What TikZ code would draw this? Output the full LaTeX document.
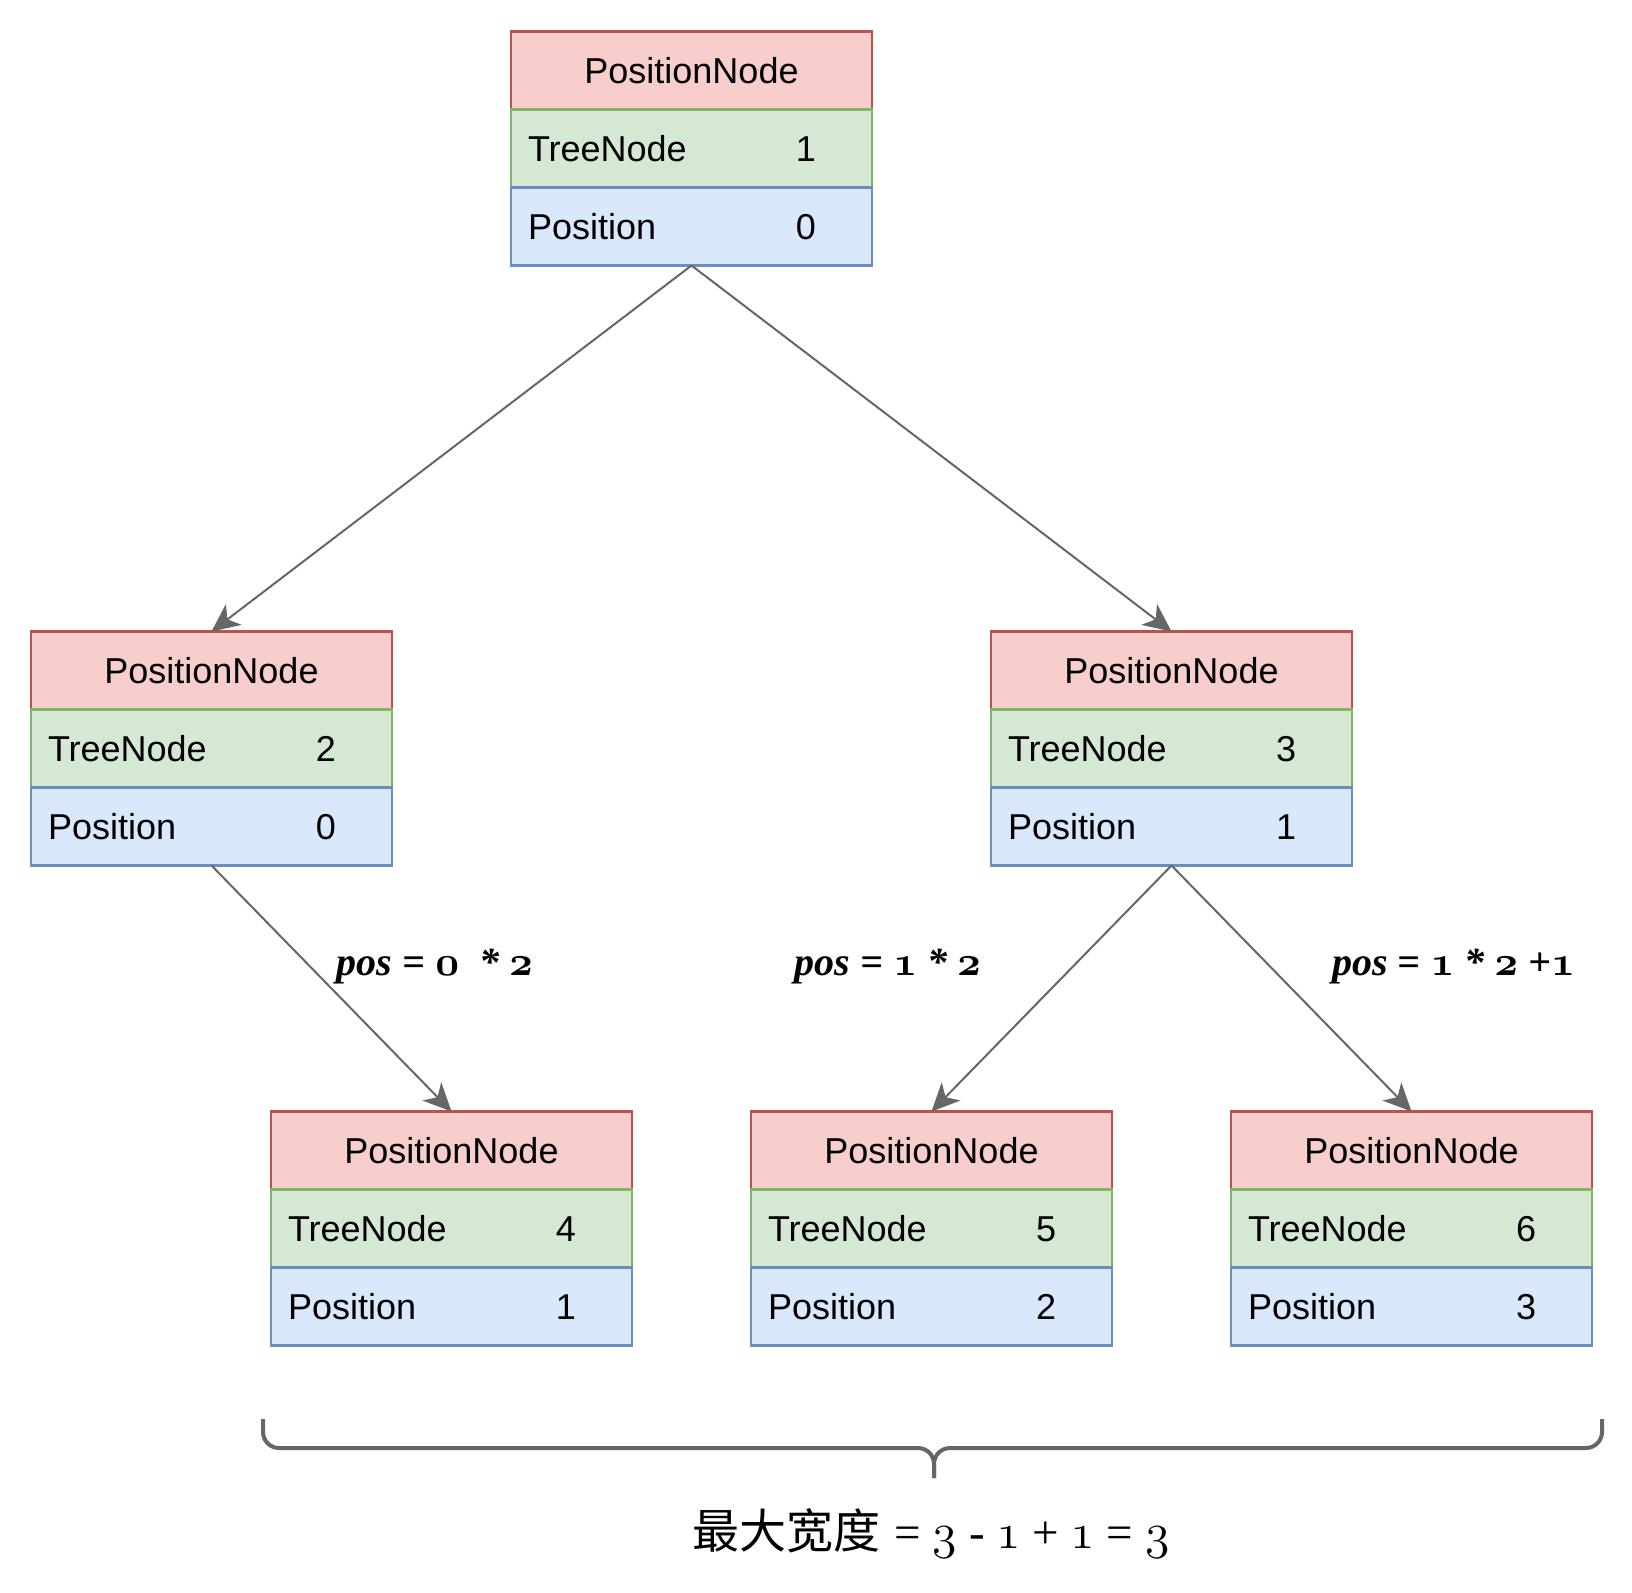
\documentclass[tikz,border=0pt]{standalone}
\usepackage{fontspec}
\newfontfamily\boxfont{Liberation Sans}
\newfontfamily\serifbox{Liberation Serif}
\newfontfamily\cjk{Noto Sans CJK SC}
\usetikzlibrary{positioning,arrows.meta}

\definecolor{redline}{HTML}{B85450}
\definecolor{redfill}{HTML}{F8CECC}
\definecolor{greenline}{HTML}{82B366}
\definecolor{greenfill}{HTML}{D5E8D4}
\definecolor{blueline}{HTML}{6C8EBF}
\definecolor{bluefill}{HTML}{DAE8FC}
\definecolor{linegray}{HTML}{666666}

% old style figures
\newcommand{\osn}[1]{{\usefont{OML}{cmm}{b}{it}#1}}
\newcommand{\osnr}[1]{{\usefont{OML}{cmm}{m}{it}#1}}
\newcommand{\rowtext}[2]{\makebox[163.5pt][l]{#1\hfill\makebox[0pt]{#2}\hspace{24.5pt}}}

\tikzset{
  rowbox/.style={draw, line width=1.2pt, minimum width=180.5pt, minimum height=39pt,
    inner xsep=8.5pt, outer sep=0pt, font=\boxfont\fontsize{18}{21}\selectfont},
  titlerow/.style={rowbox, draw=redline, fill=redfill},
  treerow/.style={rowbox, draw=greenline, fill=greenfill},
  posrow/.style={rowbox, draw=blueline, fill=bluefill},
  conn/.style={draw=linegray, line width=1pt, -{Stealth[length=14pt,width=13pt,inset=4pt]}},
  formula/.style={anchor=base, font=\serifbox\fontsize{20}{24}\selectfont\bfseries\itshape},
  bracepath/.style={draw=linegray, line width=2pt, rounded corners=8pt}
}

\newcommand{\posnode}[4]{%
  \node[titlerow] (#1) at (#2) {PositionNode};
  \node[treerow, below=0pt of #1] (#1-tree) {\rowtext{TreeNode}{#3}};
  \node[posrow, below=0pt of #1-tree] (#1-pos) {\rowtext{Position}{#4}};
}

\begin{document}
\begin{tikzpicture}[x=0.5pt, y=-0.5pt]
  \useasboundingbox (0,0) rectangle (1632,1593);

  % Define nodes
  \posnode{pn1}{691.5,70.5}{1}{0}
  \posnode{pn2}{211.5,670.5}{2}{0}
  \posnode{pn3}{1171.5,670.5}{3}{1}
  \posnode{pn4}{451.5,1150.5}{4}{1}
  \posnode{pn5}{931.5,1150.5}{5}{2}
  \posnode{pn6}{1411.5,1150.5}{6}{3}

  % Connect the nodes
  \draw[conn] (pn1-pos.south) -- (pn2.north);
  \draw[conn] (pn1-pos.south) -- (pn3.north);
  \draw[conn] (pn2-pos.south) -- (pn4.north);
  \draw[conn] (pn3-pos.south) -- (pn5.north);
  \draw[conn] (pn3-pos.south) -- (pn6.north);

  % Edge formulas
  \node[formula] (f4) at (435,975) {pos = \osn{0}\ \ * \osn{2}};
  \node[formula] (f5) at (888,975) {pos = \osn{1} * \osn{2}};
  \node[formula] (f6) at (1453.5,975) {pos = \osn{1} * \osn{2} +\osn{1}};

  % Brace
  \coordinate (brL) at (263,1419);
  \coordinate (brR) at (1602,1419);
  \coordinate (brM) at (934,1448);
  \coordinate (brTip) at (934,1478);
  \draw[bracepath] (brL) |- (brM) -- (brTip);
  \draw[bracepath] (brR) |- (brM) -- (brTip);

  \node[anchor=base, font=\fontsize{23.5}{28}\selectfont] (maxw) at (931,1548)
    {{\cjk 最大宽度} {\serifbox = \osnr{3} - \osnr{1} + \osnr{1} = \osnr{3}}};
\end{tikzpicture}
\end{document}
